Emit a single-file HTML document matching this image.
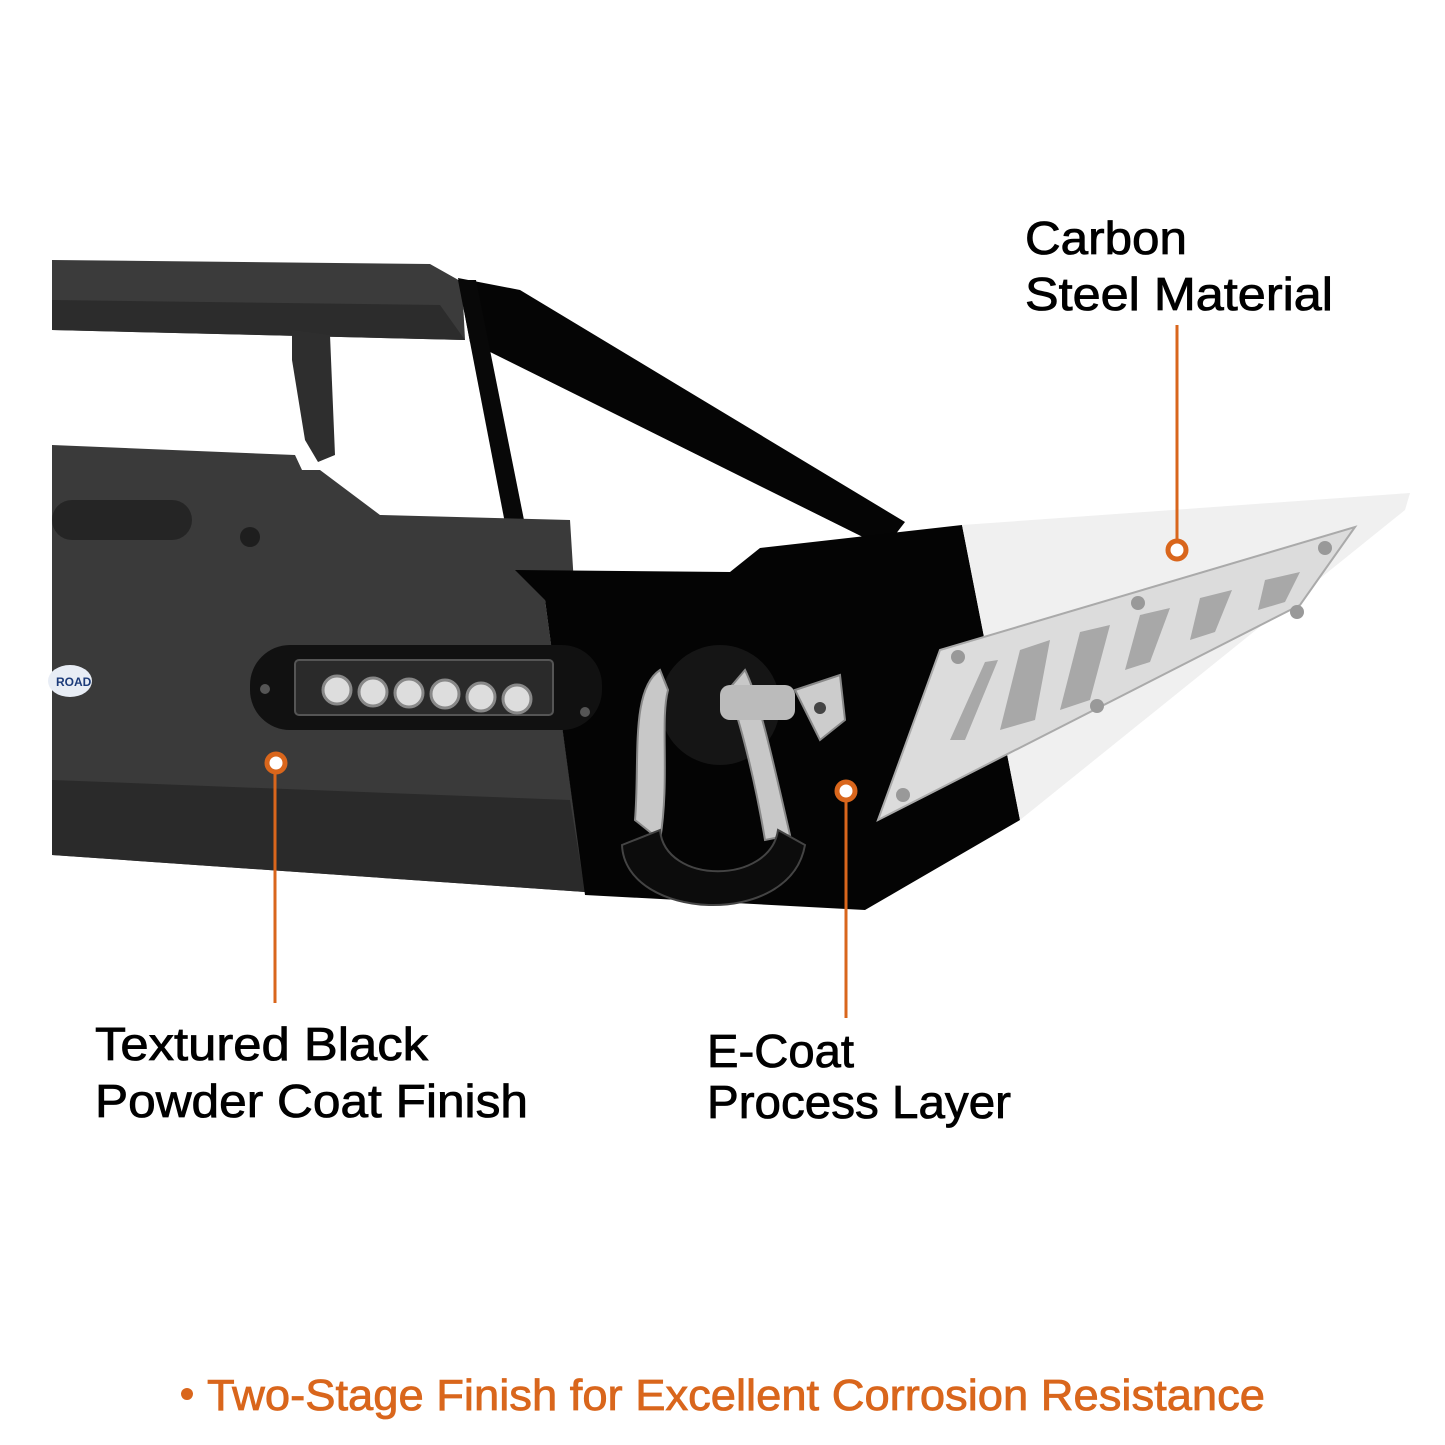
<!DOCTYPE html>
<html><head><meta charset="utf-8"><style>
html,body{margin:0;padding:0;background:#fff}
svg{display:block}
text{font-family:"Liberation Sans",sans-serif}
</style></head><body>
<svg width="1445" height="1445" viewBox="0 0 1445 1445" xmlns="http://www.w3.org/2000/svg">
<rect width="1445" height="1445" fill="#fff"/>
<!-- top tube -->
<polygon points="52,260 430,264 462,282 465,340 52,330" fill="#3b3b3b"/>
<polygon points="52,300 440,305 465,340 52,330" fill="#2c2c2c"/>
<!-- bracket -->
<polygon points="292,330 330,335 335,455 318,462 305,440 292,360" fill="#2e2e2e"/>
<!-- diagonal black bar -->
<polygon points="458,278 520,290 905,522 885,548 470,342" fill="#050505"/>
<!-- black strut -->
<polygon points="458,280 476,280 535,575 515,575" fill="#080808"/>
<!-- grey main body -->
<polygon points="52,445 295,455 302,470 320,470 380,515 570,520 575,600 545,600 585,892 52,855" fill="#3a3a3a"/>
<polygon points="52,780 570,800 585,892 52,855" fill="#2a2a2a"/>
<rect x="52" y="500" width="140" height="40" rx="20" fill="#252525"/>
<circle cx="250" cy="537" r="10" fill="#1e1e1e"/>
<!-- black body -->
<polygon points="515,570 730,572 760,548 962,525 1020,820 865,910 585,895 545,600" fill="#040404"/>
<!-- light wing -->
<polygon points="962,525 1410,493 1405,510 1020,820" fill="#f0f0f0"/>
<!-- steel plate -->
<polygon points="940,650 1355,527 1300,605 878,820" fill="#dcdcdc" stroke="#aaa" stroke-width="2"/>
<g fill="#a8a8a8">
<polygon points="985,662 950,740 965,740 998,660"/>
<polygon points="1020,650 1000,730 1035,720 1050,640"/>
<polygon points="1080,632 1060,710 1090,700 1110,625"/>
<polygon points="1140,615 1125,670 1150,662 1170,608"/>
<polygon points="1200,598 1190,640 1215,632 1232,590"/>
<polygon points="1265,580 1258,610 1285,602 1300,572"/>
</g>
<g fill="#999"><circle cx="958" cy="657" r="7"/><circle cx="1138" cy="603" r="7"/><circle cx="1325" cy="548" r="7"/><circle cx="1297" cy="612" r="7"/><circle cx="1097" cy="706" r="7"/><circle cx="903" cy="795" r="7"/></g>
<!-- logo -->
<ellipse cx="70" cy="681" rx="22" ry="16" fill="#e8edf5"/>
<text x="56" y="686" font-size="12" font-weight="bold" fill="#1c3b7a">ROAD</text>
<!-- light bar -->
<rect x="250" y="645" width="352" height="85" rx="40" fill="#111"/>
<rect x="295" y="660" width="258" height="55" rx="4" fill="#2a2a2a" stroke="#555" stroke-width="2"/>
<g fill="#ddd" stroke="#888" stroke-width="3">
<circle cx="337" cy="690" r="14"/><circle cx="373" cy="692" r="14"/><circle cx="409" cy="693" r="14"/><circle cx="445" cy="694" r="14"/><circle cx="481" cy="697" r="14"/><circle cx="517" cy="699" r="14"/></g>
<circle cx="265" cy="689" r="5" fill="#555"/><circle cx="585" cy="712" r="5" fill="#555"/>
<!-- shackle -->
<circle cx="720" cy="705" r="60" fill="#151515"/>
<path d="M660,670 C630,690 640,760 635,820 L660,840 C670,780 660,720 668,690 Z" fill="#c8c8c8" stroke="#888" stroke-width="2"/>
<path d="M745,670 C760,700 775,770 790,835 L765,840 C755,780 740,720 728,690 Z" fill="#c8c8c8" stroke="#888" stroke-width="2"/>
<rect x="720" y="685" width="75" height="35" rx="10" fill="#bbb"/>
<polygon points="795,690 840,675 845,720 820,740" fill="#ccc" stroke="#888" stroke-width="2"/>
<circle cx="820" cy="708" r="6" fill="#444"/>
<path d="M622,845 C625,920 790,930 805,845 L778,830 C770,885 665,885 660,830 Z" fill="#0c0c0c" stroke="#444" stroke-width="2"/>
<!-- callout lines -->
<g stroke="#d9661c" stroke-width="3" fill="#fff">
<line x1="1177" y1="325" x2="1177" y2="540"/><circle cx="1177" cy="550" r="9" stroke-width="5"/>
<line x1="275" y1="773" x2="275" y2="1003"/><circle cx="276" cy="763" r="9" stroke-width="5"/>
<line x1="846" y1="800" x2="846" y2="1018"/><circle cx="846" cy="791" r="9" stroke-width="5"/>
</g>
<!-- labels -->
<g font-size="46" fill="#000" stroke="#000" stroke-width="0.8">
<text x="1025" y="254" textLength="162" lengthAdjust="spacingAndGlyphs">Carbon</text>
<text x="1025" y="310" textLength="308" lengthAdjust="spacingAndGlyphs">Steel Material</text>
<text x="95" y="1060" textLength="333" lengthAdjust="spacingAndGlyphs">Textured Black</text>
<text x="95" y="1117" textLength="433" lengthAdjust="spacingAndGlyphs">Powder Coat Finish</text>
<text x="707" y="1067" textLength="147" lengthAdjust="spacingAndGlyphs">E-Coat</text>
<text x="707" y="1118" textLength="304" lengthAdjust="spacingAndGlyphs">Process Layer</text>
</g>
<circle cx="187" cy="1394" r="6" fill="#d9661c"/>
<text x="207" y="1410" font-size="44" fill="#d9661c" stroke="#d9661c" stroke-width="0.8" textLength="1058" lengthAdjust="spacingAndGlyphs">Two-Stage Finish for Excellent Corrosion Resistance</text>
</svg>
</body></html>
